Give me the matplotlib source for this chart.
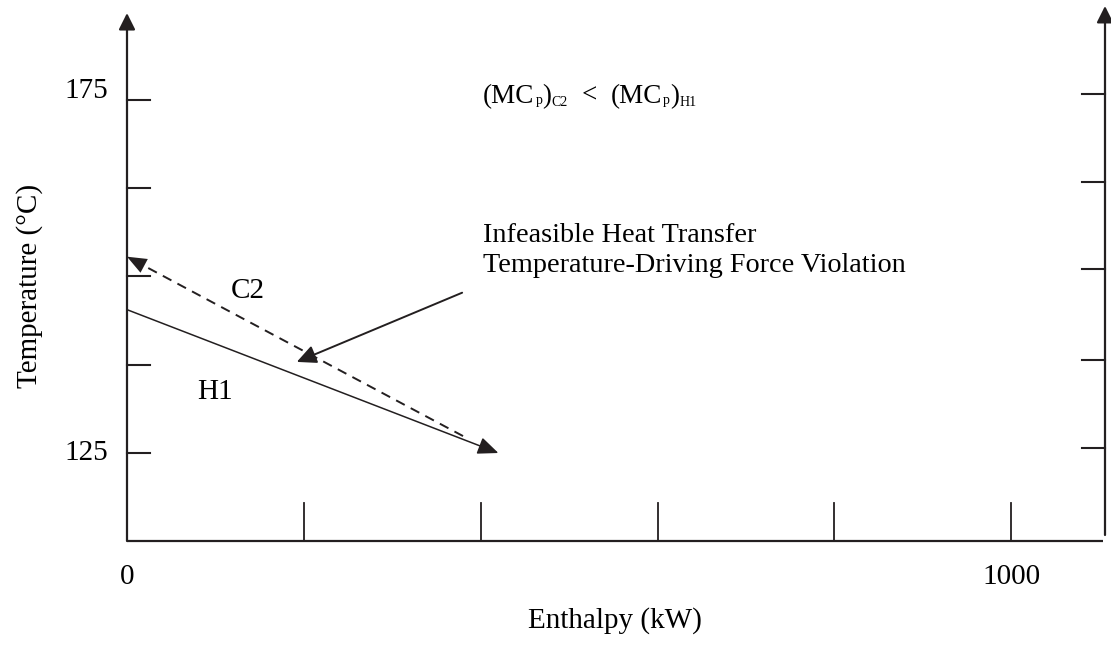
import matplotlib
matplotlib.use("Agg")
import matplotlib.pyplot as plt
import numpy as np

# ---- data ----
h1_enthalpy = [0, 420]          # kW
h1_temp = [145.3, 125.0]        # degC (arrow towards end)
c2_enthalpy = [380, 0]          # kW (tail -> head)
c2_temp = [127.4, 152.8]
annot_from = (379, 147.7)
annot_to = (192, 137.9)
x_ticks = [200, 400, 600, 800, 1000]
x_tick_labels = {0: "0", 1000: "1000"}
y_ticks_left = [125, 137.5, 150, 162.5, 175]
y_tick_labels = {125: "125", 175: "175"}
y_ticks_right = [125.7, 138.2, 151.1, 163.4, 175.85]

XMAX = 1106
YMIN, YMAX = 112.54, 188.3
AX_TOP = 187.3
INK = "#231f20"

plt.rcParams['font.family'] = ['Liberation Serif', 'DejaVu Serif']

W, H = 1111, 645
fig = plt.figure(figsize=(W / 100, H / 100), dpi=100)
ax = fig.add_axes([127 / W, 1 - 541 / H, (1105 - 127) / W, (541 - 6) / H])
ax.set_xlim(0, XMAX)
ax.set_ylim(YMIN, YMAX)
ax.axis('off')

FS = 21
px_per_x = (1105 - 127) / XMAX
px_per_y = (541 - 6) / (YMAX - YMIN)

def ypx(py):
    """reference pixel row -> data y"""
    return YMIN + (541 - py) / px_per_y

def xpx(px):
    return (px - 127) / px_per_x

def arrow(p0, p1, lw, ms=25, style='-|>,head_length=0.4,head_width=0.2'):
    ax.annotate('', xy=p1, xytext=p0,
                arrowprops=dict(arrowstyle=style, lw=lw, color=INK,
                                mutation_scale=ms, shrinkA=0, shrinkB=0),
                annotation_clip=False)

# axes lines
arrow((0, YMIN), (0, AX_TOP), lw=1.6)
ax.plot([0, XMAX - 2 / px_per_x], [YMIN, YMIN], color=INK, lw=1.6, clip_on=False,
        solid_capstyle='butt')
arrow((XMAX, YMIN + 6 / px_per_y), (XMAX, YMAX), lw=1.6)

# ticks
tick_len_x = 38 / px_per_y
for xt in x_ticks:
    ax.plot([xt, xt], [YMIN, YMIN + tick_len_x], color=INK, lw=1.3, clip_on=False)
tl = 23 / px_per_x
for yt in y_ticks_left:
    ax.plot([0, tl], [yt, yt], color=INK, lw=1.5, clip_on=False)
for yt in y_ticks_right:
    ax.plot([XMAX - tl, XMAX], [yt, yt], color=INK, lw=1.5, clip_on=False)

# tick labels
for xv, s in x_tick_labels.items():
    ax.text(xv, YMIN - 36 / px_per_y, s, ha='center', va='center', fontsize=FS,
            color='black')
label_offsets = {125: 0, 175: 9}
for yv, s in y_tick_labels.items():
    ax.text(-19 / px_per_x, yv + label_offsets[yv] / px_per_y, s, ha='right',
            va='center', fontsize=FS, color='black')

# axis labels
fig.text(615 / W, 1 - 621 / H, "Enthalpy (kW)", ha='center', va='center',
         fontsize=FS)
fig.text(30 / W, 1 - 286 / H, "Temperature (°C)", ha='center', va='center',
         rotation=90, fontsize=FS)

# H1 stream (solid, arrow at end)
arrow((h1_enthalpy[0], h1_temp[0]), (h1_enthalpy[1], h1_temp[1]), lw=1.1,
      ms=28, style='-|>,head_length=0.45,head_width=0.19')

# C2 stream (dashed body + filled head without stroke)
ax.plot(c2_enthalpy, c2_temp, color=INK, lw=1.4, ls=(0, (5, 3.5)),
        clip_on=False)
dx_px = (c2_enthalpy[1] - c2_enthalpy[0]) * px_per_x
dy_px = (c2_temp[1] - c2_temp[0]) * px_per_y
L = np.hypot(dx_px, dy_px)
back = 60.0
p_back = (c2_enthalpy[1] - dx_px / L * back / px_per_x,
          c2_temp[1] - dy_px / L * back / px_per_y)
ax.annotate('', xy=(c2_enthalpy[1], c2_temp[1]), xytext=p_back,
            arrowprops=dict(arrowstyle='-|>,head_length=0.5,head_width=0.2',
                            lw=0, color=INK, mutation_scale=28,
                            shrinkA=0, shrinkB=0),
            annotation_clip=False)

# annotation arrow
arrow(annot_from, annot_to, lw=1.4, ms=28,
      style='-|>,head_length=0.42,head_width=0.2')

# texts
ax.text(xpx(248), ypx(291), "C2", ha='center', va='center', fontsize=FS)
ax.text(xpx(215), ypx(392), "H1", ha='center', va='center', fontsize=FS)
FS2 = 20.3
ax.text(xpx(483), ypx(242), "Infeasible Heat Transfer", ha='left',
        va='baseline', fontsize=FS2)
ax.text(xpx(483), ypx(272), "Temperature-Driving Force Violation", ha='left',
        va='baseline', fontsize=FS2)

# (MC_p)_C2 < (MC_p)_H1 built from pieces: (text, size, raise_px, gap_px)
renderer = fig.canvas.get_renderer()
MAIN, SUB = 19.5, 10
pieces = [("(MC", MAIN, 0, 0), ("p", SUB, -1, 1), (")", MAIN, 0, 0),
          ("C2", SUB, -3, 0), ("<", MAIN, 0, 14), ("(MC", MAIN, 0, 14),
          ("p", SUB, -1, 1), (")", MAIN, 0, 0), ("H1", SUB, -3, 0)]
cur = 483.0
for s, size, dy, gap in pieces:
    cur += gap
    t = fig.text(cur / W, 1 - (103 - dy) / H, s, ha='left', va='baseline',
                 fontsize=size)
    bb = t.get_window_extent(renderer=renderer)
    cur += bb.width

fig.savefig("out.png", dpi=100)
